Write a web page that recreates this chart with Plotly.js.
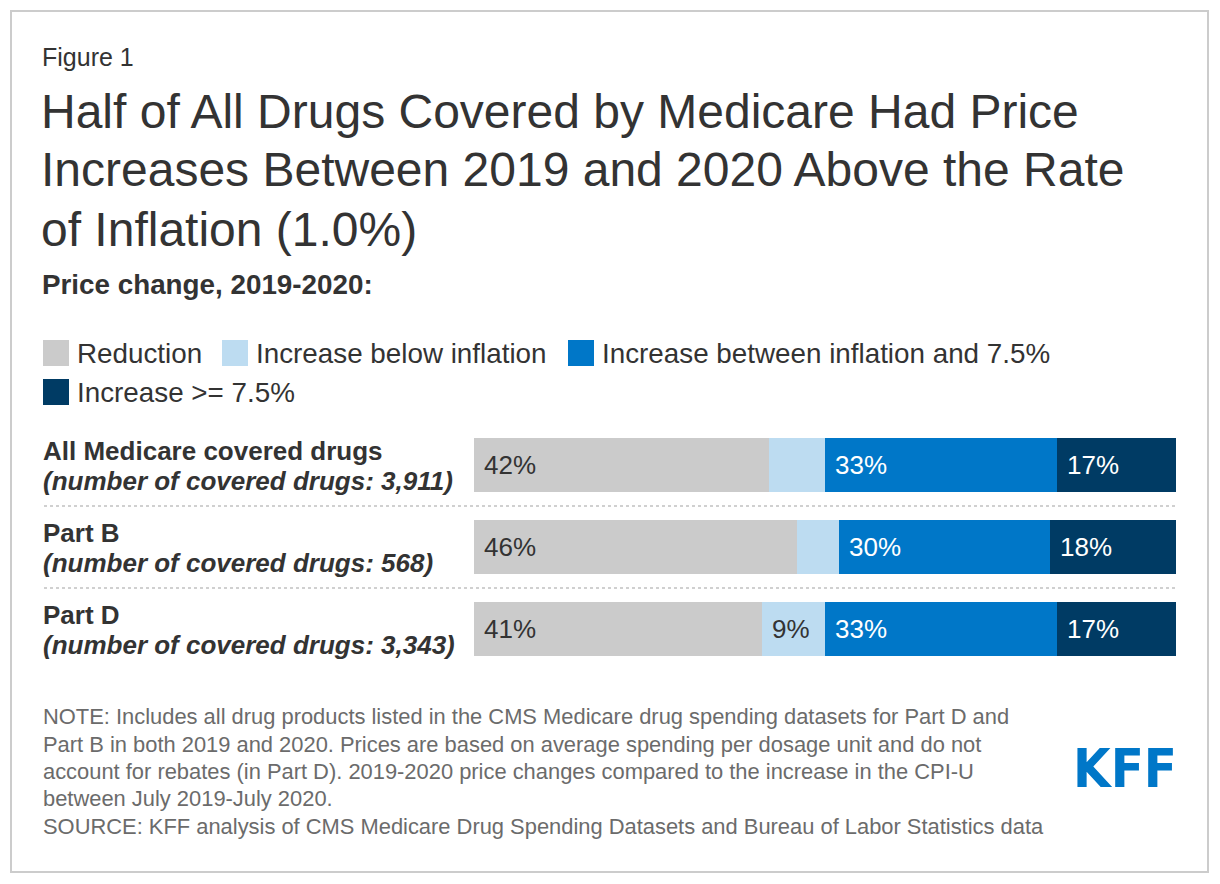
<!DOCTYPE html>
<html>
<head>
<meta charset="utf-8">
<script src="https://cdn.plot.ly/plotly-3.0.1.min.js"></script>
<style>
  html, body { margin: 0; padding: 0; background: #ffffff; }
  #chart { width: 1220px; height: 884px; }
</style>
</head>
<body>
<div id="chart"></div>
<script>
// ---------- DATA ----------
const categories = ['All Medicare covered drugs', 'Part B', 'Part D'];
const subLabels = ['(number of covered drugs: 3,911)', '(number of covered drugs: 568)', '(number of covered drugs: 3,343)'];
const seriesNames = ['Reduction', 'Increase below inflation', 'Increase between inflation and 7.5%', 'Increase >= 7.5%'];
const reduction = [42, 46, 41];
const belowInflation = [8, 6, 9];
const betweenInflation = [33, 30, 33];
const aboveThreshold = [17, 18, 17];
const reductionLabels = ['42%', '46%', '41%'];
const belowInflationLabels = ['', '', '9%'];
const betweenInflationLabels = ['33%', '30%', '33%'];
const aboveThresholdLabels = ['17%', '18%', '17%'];
const figureLabel = 'Figure 1';
const titleLines = [
  'Half of All Drugs Covered by Medicare Had Price',
  'Increases Between 2019 and 2020 Above the Rate',
  'of Inflation (1.0%)'
];
const subtitle = 'Price change, 2019-2020:';
const noteLines = [
  'NOTE: Includes all drug products listed in the CMS Medicare drug spending datasets for Part D and',
  'Part B in both 2019 and 2020. Prices are based on average spending per dosage unit and do not',
  'account for rebates (in Part D). 2019-2020 price changes compared to the increase in the CPI-U',
  'between July 2019-July 2020.',
  'SOURCE: KFF analysis of CMS Medicare Drug Spending Datasets and Bureau of Labor Statistics data'
];
const logoText = 'KFF';

// ---------- STYLE / LAYOUT ----------
const FONT = 'Liberation Sans, Arial, Helvetica, sans-serif';
const colors = ['#cbcbcb', '#bddcf1', '#0077c8', '#003b64'];
const labelColors = ['#333333', '#333333', '#ffffff', '#ffffff'];
const seriesValues = [reduction, belowInflation, betweenInflation, aboveThreshold];
const seriesLabels = [reductionLabels, belowInflationLabels, betweenInflationLabels, aboveThresholdLabels];

const W = 1220, H = 884;
const M = { l: 474, r: 44, t: 424, b: 214 };
const plotW = W - M.l - M.r, plotH = H - M.t - M.b;
const px2x = p => (p - M.l) / plotW;
const py2y = p => (H - M.b - p) / plotH;

const traces = seriesValues.map((vals, i) => ({
  type: 'bar',
  orientation: 'h',
  name: seriesNames[i],
  x: vals,
  y: categories,
  marker: { color: colors[i], line: { width: 0 } },
  hoverinfo: 'skip',
  showlegend: false
}));

const annotations = [];
const shapes = [];

// Figure label
annotations.push({ xref: 'paper', yref: 'paper', x: px2x(40), y: py2y(57), xanchor: 'left', yanchor: 'middle',
  text: figureLabel, showarrow: false, font: { family: FONT, size: 25, color: '#333333' } });
// Title lines
const titleY = [111, 170, 229];
titleLines.forEach((t, i) => annotations.push({ xref: 'paper', yref: 'paper', x: px2x(39), y: py2y(titleY[i]),
  xanchor: 'left', yanchor: 'middle', text: t, showarrow: false, font: { family: FONT, size: 48, color: '#333333' } }));
// Subtitle
annotations.push({ xref: 'paper', yref: 'paper', x: px2x(40), y: py2y(284), xanchor: 'left', yanchor: 'middle',
  text: '<b>' + subtitle + '</b>', showarrow: false, font: { family: FONT, size: 27.8, color: '#333333' } });

// Legend (manual, square swatches)
const legendPos = [ { x: 43, y: 353 }, { x: 222, y: 353 }, { x: 568, y: 353 }, { x: 43, y: 392 } ];
const SW = 26;
seriesNames.forEach((n, i) => {
  const p = legendPos[i];
  shapes.push({ type: 'rect', xref: 'paper', yref: 'paper', x0: px2x(p.x), x1: px2x(p.x + SW),
    y0: py2y(p.y - SW / 2), y1: py2y(p.y + SW / 2), fillcolor: colors[i], line: { width: 0 } });
  annotations.push({ xref: 'paper', yref: 'paper', x: px2x(p.x + SW + 6), y: py2y(p.y), xanchor: 'left', yanchor: 'middle',
    text: n.replace('>', '&gt;'), showarrow: false, font: { family: FONT, size: 27.8, color: '#333333' } });
});

// Row labels
categories.forEach((c, i) => {
  annotations.push({ xref: 'paper', yref: 'y', x: px2x(41), y: c, yshift: 14, xanchor: 'left', yanchor: 'middle',
    text: '<b>' + c + '</b>', showarrow: false, font: { family: FONT, size: 26, color: '#333333' } });
  annotations.push({ xref: 'paper', yref: 'y', x: px2x(41), y: c, yshift: -16, xanchor: 'left', yanchor: 'middle',
    text: '<b><i>' + subLabels[i] + '</i></b>', showarrow: false, font: { family: FONT, size: 26, color: '#333333' } });
});

// Bar segment labels
categories.forEach((c, ci) => {
  let base = 0;
  seriesValues.forEach((vals, si) => {
    const lbl = seriesLabels[si][ci];
    if (lbl) {
      annotations.push({ xref: 'x', yref: 'y', x: base, y: c, xshift: 8, xanchor: 'left', yanchor: 'middle',
        text: lbl, showarrow: false, font: { family: FONT, size: 26, color: labelColors[si] } });
    }
    base += vals[ci];
  });
});

// Dotted separators between rows
for (let k = 0; k < categories.length - 1; k++) {
  shapes.push({ type: 'line', xref: 'paper', yref: 'y', x0: px2x(44), x1: 1, y0: k + 0.5, y1: k + 0.5,
    line: { color: '#d0d0d0', width: 2, dash: 'dot' } });
}

// Notes
const noteY = [716, 744, 771, 798, 826];
noteLines.forEach((t, i) => annotations.push({ xref: 'paper', yref: 'paper', x: px2x(41), y: py2y(noteY[i]),
  xanchor: 'left', yanchor: 'middle', text: t, showarrow: false, font: { family: FONT, size: 21.9, color: '#6b6b6b' } }));

// Logo
annotations.push({ xref: 'paper', yref: 'paper', x: px2x(1179), y: py2y(768), xanchor: 'right', yanchor: 'middle',
  text: '<b>' + logoText + '</b>', showarrow: false,
  font: { family: 'Liberation Sans Narrow, Arial Narrow, DejaVu Sans Condensed, sans-serif', size: 54, color: '#0077c8' } });

// Outer border
shapes.push({ type: 'rect', xref: 'paper', yref: 'paper', x0: px2x(11), x1: px2x(1208), y0: py2y(872), y1: py2y(11),
  line: { color: '#cccccc', width: 2 }, fillcolor: 'rgba(0,0,0,0)', layer: 'below' });

const layout = {
  width: W, height: H,
  margin: M,
  paper_bgcolor: '#ffffff', plot_bgcolor: '#ffffff',
  barmode: 'stack',
  bargap: 0.341,
  showlegend: false,
  font: { family: FONT, color: '#333333' },
  xaxis: { range: [0, 100], visible: false, fixedrange: true },
  yaxis: { type: 'category', range: [2.5, -0.5], visible: false, fixedrange: true },
  annotations: annotations,
  shapes: shapes
};

Plotly.newPlot('chart', traces, layout, { displayModeBar: false, staticPlot: true });
</script>
</body>
</html>
